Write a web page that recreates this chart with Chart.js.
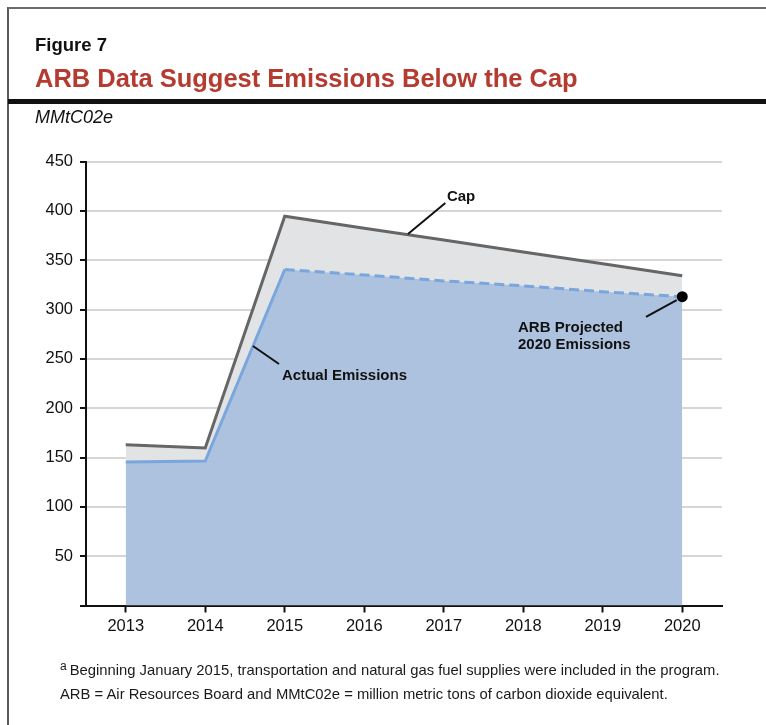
<!DOCTYPE html>
<html>
<head>
<meta charset="utf-8">
<script src="https://cdn.jsdelivr.net/npm/chart.js@4/dist/chart.umd.min.js"></script>
<style>
  html, body { margin: 0; padding: 0; background: #fff; }
  body { width: 766px; height: 725px; position: relative; overflow: hidden;
         font-family: "Liberation Sans", Arial, Helvetica, sans-serif; }
  #frame { position: absolute; left: 7px; top: 7px; width: 800px; height: 800px;
           border-left: 2px solid #5a5a5a; border-top: 2px solid #6a6a6a; }
  #rule { position: absolute; left: 8px; top: 99px; width: 760px; height: 5px; background: #111; }
  .txt { position: absolute; white-space: nowrap; color: #111; }
  #fig { left: 35px; top: 36px; font-size: 18.5px; line-height: 18.5px; font-weight: bold; }
  #title { left: 35px; top: 66px; font-size: 25.5px; line-height: 25.5px; font-weight: bold; color: #b53a30; }
  #unit { left: 35px; top: 108px; font-size: 18px; line-height: 18px; font-style: italic; }
  .note { left: 60px; font-size: 14.8px; line-height: 15px; color: #1a1a1a; }
  #note1 { top: 659px; }
  #note2 { top: 687px; }
  sup { font-size: 12px; vertical-align: 5px; margin-right: 3px; }
  canvas { position: absolute; left: 0; top: 0; }
</style>
</head>
<body>
<canvas id="chart" width="766" height="725"></canvas>
<div id="frame"></div>
<div id="rule"></div>
<div class="txt" id="fig">Figure 7</div>
<div class="txt" id="title">ARB Data Suggest Emissions Below the Cap</div>
<div class="txt" id="unit">MMtC02e</div>
<div class="txt note" id="note1"><sup>a</sup>Beginning January 2015, transportation and natural gas fuel supplies were included in the program.</div>
<div class="txt note" id="note2">ARB = Air Resources Board and MMtC02e = million metric tons of carbon dioxide equivalent.</div>
<script>
// Years on the horizontal axis
const years = ['2013', '2014', '2015', '2016', '2017', '2018', '2019', '2020'];
// Allowance cap (MMtCO2e)
const capValues = [162.8, 159.7, 394.5, 382.4, 370.4, 358.3, 346.3, 334.2];
// Reported emissions through 2015, ARB projection afterwards (MMtCO2e)
const emissionValues = [145.5, 146.5, 340.5, 335, 329, 324, 318, 313];
// Vertical axis range and step
const yMin = 0, yMax = 450, yStep = 50;
// Index where the reported series turns into a projection
const projectionStart = years.indexOf('2015');
const projectedPoint = years.indexOf('2020');

// Callout labels, anchored in data space: [category index, value]
const callouts = [
  { lines: ['Cap'], text: [4.04, 410], from: [4.02, 408], to: [3.55, 376.5] },
  { lines: ['Actual Emissions'], text: [1.965, 228.5], from: [1.928, 244.8], to: [1.60, 263] },
  { lines: ['ARB Projected', '2020 Emissions'], text: [4.934, 277.2], from: [6.544, 292.4], to: [6.93, 309.6] }
];

const FONT = '"Liberation Sans", Arial, Helvetica, sans-serif';

const calloutPlugin = {
  id: 'callouts',
  afterDatasetsDraw(chart) {
    const { ctx, scales: { x, y } } = chart;
    ctx.save();
    ctx.strokeStyle = '#111';
    ctx.lineWidth = 2;
    ctx.fillStyle = '#111';
    ctx.font = 'bold 15px ' + FONT;
    ctx.textAlign = 'left';
    ctx.textBaseline = 'alphabetic';
    callouts.forEach(c => {
      ctx.beginPath();
      ctx.moveTo(x.getPixelForValue(c.from[0]), y.getPixelForValue(c.from[1]));
      ctx.lineTo(x.getPixelForValue(c.to[0]), y.getPixelForValue(c.to[1]));
      ctx.stroke();
      const tx = x.getPixelForValue(c.text[0]);
      const ty = y.getPixelForValue(c.text[1]);
      c.lines.forEach((line, i) => ctx.fillText(line, tx, ty + i * 17));
    });
    ctx.restore();
  }
};

new Chart(document.getElementById('chart'), {
  type: 'line',
  data: {
    labels: years,
    datasets: [
      {
        // emissions line: solid for reported years, dashed for the projection
        label: 'Actual Emissions',
        data: emissionValues,
        borderColor: '#79a6dc',
        borderWidth: 3,
        fill: false,
        tension: 0,
        borderJoinStyle: 'miter',
        pointRadius: emissionValues.map((v, i) => i === projectedPoint ? 5.5 : 0),
        pointBackgroundColor: '#000',
        pointBorderColor: '#000',
        pointBorderWidth: 0,
        segment: {
          borderDash: ctx => ctx.p0DataIndex >= projectionStart ? [10, 5] : undefined
        }
      },
      {
        // blue area under the emissions line
        label: 'Emissions area',
        data: emissionValues,
        borderColor: 'rgba(0,0,0,0)',
        backgroundColor: '#adc2de',
        borderWidth: 0,
        fill: 'origin',
        tension: 0,
        pointRadius: 0
      },
      {
        label: 'Cap',
        data: capValues,
        borderColor: '#666666',
        backgroundColor: '#e2e3e5',
        borderWidth: 3,
        fill: 'origin',
        tension: 0,
        borderJoinStyle: 'miter',
        pointRadius: 0
      }
    ]
  },
  options: {
    responsive: false,
    animation: false,
    events: [],
    layout: { padding: { left: 0, right: 44, top: 161.5, bottom: 79.5 } },
    plugins: {
      legend: { display: false },
      tooltip: { enabled: false },
      title: { display: false }
    },
    scales: {
      x: {
        type: 'category',
        offset: true,
        afterFit: s => { s.height = 40; },
        border: { color: '#111', width: 2 },
        grid: { drawOnChartArea: false, drawTicks: true, tickLength: 7, tickColor: '#111', tickWidth: 2, offset: false },
        ticks: { color: '#111', font: { family: FONT, size: 16.5 }, padding: 4, maxRotation: 0 }
      },
      y: {
        min: yMin,
        max: yMax,
        z: 1,
        afterFit: s => { s.width = 86; },
        border: { color: '#111', width: 2 },
        grid: { color: 'rgba(0,0,0,0.16)', lineWidth: 2, drawTicks: true, tickLength: 6, tickColor: '#111', tickWidth: 2 },
        ticks: {
          stepSize: yStep,
          color: '#111',
          font: { family: FONT, size: 16.5 },
          padding: 7,
          callback: v => v === 0 ? '' : v
        }
      }
    }
  },
  plugins: [calloutPlugin]
});
</script>
</body>
</html>
